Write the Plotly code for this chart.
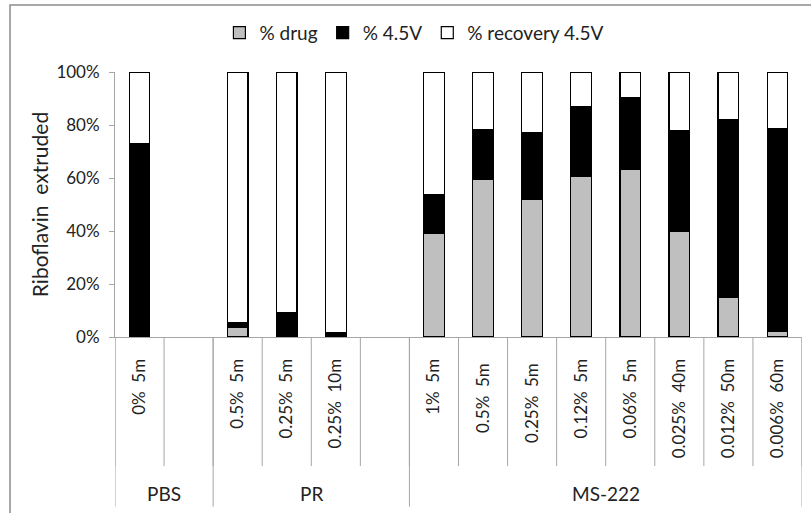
import plotly.graph_objects as go

NB = "\u00a0"
categories = ["0%" + NB*2 + "5m", NB,
              "0.5%" + NB*2 + "5m", "0.25%" + NB*2 + "5m", "0.25%" + NB*2 + "10m", NB*2,
              "1%" + NB*2 + "5m", "0.5%" + NB*2 + "5m" + NB, "0.25%" + NB*2 + "5m" + NB,
              "0.12%" + NB*2 + "5m", "0.06%" + NB*2 + "5m", "0.025%" + NB*2 + "40m",
              "0.012%" + NB*2 + "50m", "0.006%" + NB*2 + "60m"]
groups = ["PBS", "PR", "MS-222"]
group_sizes = [2, 4, 8]

drug = [0, None, 3.6, 0, 0, None, 39.2, 59.6, 51.8, 60.5, 63.1, 39.7, 14.9, 2.0]
v45 = [72.8, None, 1.7, 9.3, 1.8, None, 14.4, 18.5, 25.4, 26.5, 27.2, 38.1, 67.0, 76.7]
recovery = [27.2, None, 94.7, 90.7, 98.2, None, 46.4, 21.9, 22.8, 13.0, 9.7, 22.2, 18.1, 21.3]

def frac(vals):
    return [None if v is None else v / 100 for v in vals]

fig = go.Figure()
series = [("% drug", drug, "#bfbfbf"), ("% 4.5V", v45, "#000000"), ("% recovery 4.5V", recovery, "#ffffff")]
for name, vals, col in series:
    fig.add_trace(go.Bar(x=categories, y=frac(vals), name=name, width=0.42,
                         marker=dict(color=col, line=dict(color="#000000", width=1.2))))

GRAY = "#a6a6a6"
shapes = []
n = len(categories)
for k in range(n + 1):
    shapes.append(dict(type="line", xref="x", yref="paper", x0=k - 0.5, x1=k - 0.5,
                       y0=0, y1=-0.487, line=dict(color=GRAY, width=1)))
pos = 0
bounds = [0]
for s in group_sizes:
    pos += s
    bounds.append(pos)
for b in bounds:
    shapes.append(dict(type="line", xref="x", yref="paper", x0=b - 0.5, x1=b - 0.5,
                       y0=0, y1=-0.64, line=dict(color=GRAY, width=1)))
shapes.append(dict(type="rect", xref="paper", yref="paper", x0=-0.1528, x1=1.05,
                   y0=1.253, y1=-0.8, line=dict(color="#8c8c8c", width=1.5)))

annotations = []
start = 0
for g, s in zip(groups, group_sizes):
    annotations.append(dict(x=start + (s - 1) / 2, y=-0.589, xref="x", yref="paper",
                            text=g, showarrow=False, yanchor="middle",
                            font=dict(family="Liberation Sans Narrow, Lato", size=19, color="#222222")))
    start += s

fig.update_layout(
    width=811, height=513,
    margin=dict(l=115, r=9, t=72, b=176),
    paper_bgcolor="white", plot_bgcolor="white",
    barmode="stack",
    font=dict(family="Lato, Open Sans, sans-serif", color="#222222"),
    legend=dict(orientation="h", x=0.152, y=1.148, xanchor="left", yanchor="middle",
                font=dict(size=19, color="#222222"), traceorder="normal",
                itemwidth=30),
    shapes=shapes, annotations=annotations,
)
fig.update_xaxes(type="category", showline=True, linecolor=GRAY, linewidth=1,
                 ticks="", tickangle=-90, tickfont=dict(size=17, color="#222222"),
                 showgrid=False, range=[-0.5, n - 0.5], ticklabelstandoff=14)
fig.update_yaxes(range=[0, 1], tickformat=".0%", tickvals=[0, 0.2, 0.4, 0.6, 0.8, 1.0],
                 showline=True, linecolor=GRAY, linewidth=1, ticks="outside", ticklen=5,
                 tickcolor=GRAY, showgrid=False, zeroline=False, ticklabelstandoff=6,
                 tickfont=dict(size=17, color="#222222"),
                 title=dict(text="Riboflavin" + NB*2 + "extruded", font=dict(size=21, color="#222222"),
                            standoff=2))

fig.write_html("out.html", config={"displayModeBar": False},
               post_script="document.body.style.margin='0';document.body.style.padding='0';")
